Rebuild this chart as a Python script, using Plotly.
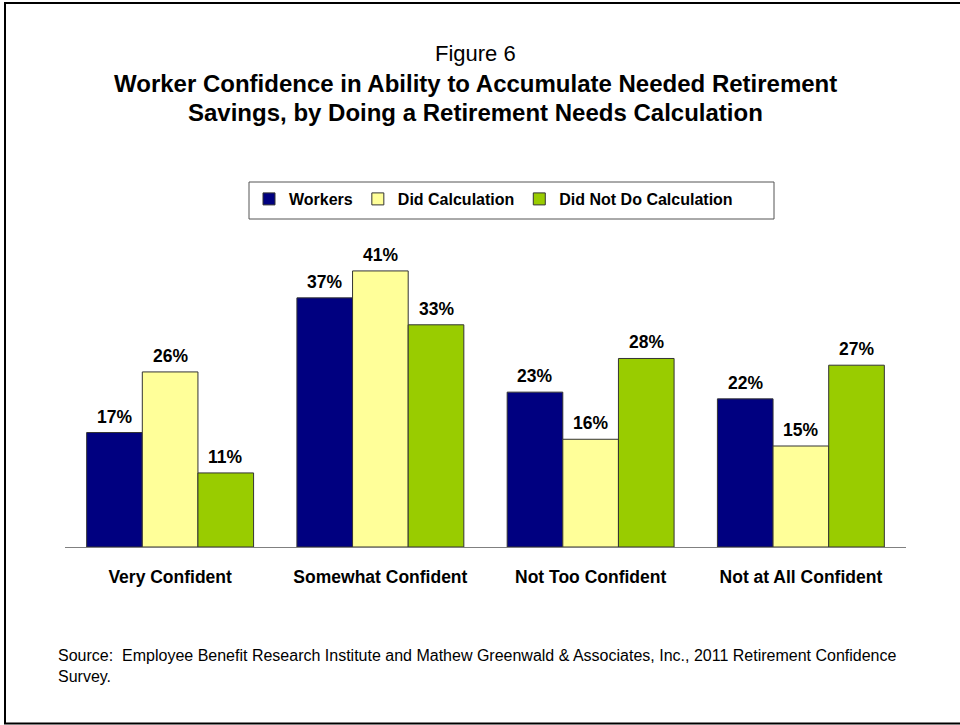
import plotly.graph_objects as go

# Survey responses (% of workers) by confidence level
categories = ["Very Confident", "Somewhat Confident", "Not Too Confident", "Not at All Confident"]
series_names = ["Workers", "Did Calculation", "Did Not Do Calculation"]
workers = [17, 37, 23, 22]
did_calc = [26, 41, 16, 15]
did_not_calc = [11, 33, 28, 27]

series_values = [workers, did_calc, did_not_calc]
colors = ["#000080", "#FFFF99", "#99CC00"]

FONT = "Arial, 'Liberation Sans', sans-serif"
W, H = 960, 725
M_L, M_R, M_T, M_B = 65, 54, 244, 178
PLOT_W = W - M_L - M_R
PLOT_H = H - M_T - M_B
BARGAP = 0.206
TITLE_X = 475.5


def py(pix):
    """Convert a pixel row (from top) to paper y."""
    return (H - M_B - pix) / PLOT_H


def px(pix):
    """Convert a pixel column (from left) to paper x."""
    return (pix - M_L) / PLOT_W


fig = go.Figure()
for name, vals, col in zip(series_names, series_values, colors):
    fig.add_trace(go.Bar(
        x=categories, y=vals, name=name,
        marker=dict(color=col, line=dict(color="#333333", width=1)),
        hoverinfo="x+y+name",
    ))

# value labels above each bar
bar_px = PLOT_W / len(categories) * (1 - BARGAP) / len(series_names)
annotations = []
for j, vals in enumerate(series_values):
    for cat, v in zip(categories, vals):
        annotations.append(dict(
            x=cat, y=v, xref="x", yref="y", text=f"{v}%",
            showarrow=False, yanchor="bottom", xanchor="center",
            xshift=(j - 1) * bar_px, yshift=4,
            font=dict(family=FONT, size=17.5, color="#000000", weight="bold"),
        ))

# titles and source note
annotations += [
    dict(x=px(TITLE_X), y=py(53.5), xref="paper", yref="paper", text="Figure 6",
         showarrow=False, xanchor="center", yanchor="middle",
         font=dict(family=FONT, size=22, color="#000000")),
    dict(x=px(TITLE_X), y=py(83.5), xref="paper", yref="paper",
         text="Worker Confidence in Ability to Accumulate Needed Retirement",
         showarrow=False, xanchor="center", yanchor="middle",
         font=dict(family=FONT, size=24, color="#000000", weight="bold")),
    dict(x=px(TITLE_X), y=py(112.5), xref="paper", yref="paper",
         text="Savings, by Doing a Retirement Needs Calculation",
         showarrow=False, xanchor="center", yanchor="middle",
         font=dict(family=FONT, size=24, color="#000000", weight="bold")),
    dict(x=px(56), y=py(645), xref="paper", yref="paper",
         text="Source:  Employee Benefit Research Institute and Mathew Greenwald & Associates, Inc., 2011 Retirement Confidence<br>Survey.",
         showarrow=False, xanchor="left", yanchor="top", align="left",
         font=dict(family=FONT, size=16, color="#000000")),
]

shapes = [
    # outer frame
    dict(type="rect", xref="paper", yref="paper",
         x0=px(5), x1=px(968), y0=py(723.5), y1=py(3),
         line=dict(color="#000000", width=2), fillcolor="rgba(0,0,0,0)",
         layer="below"),
    # legend box
    dict(type="rect", xref="paper", yref="paper",
         x0=px(249), x1=px(774), y0=py(219), y1=py(182),
         line=dict(color="#555555", width=1), fillcolor="#FFFFFF",
         layer="below"),
]

fig.update_layout(
    width=W, height=H,
    margin=dict(l=M_L, r=M_R, t=M_T, b=M_B),
    paper_bgcolor="#FFFFFF", plot_bgcolor="#FFFFFF",
    barmode="group", bargap=BARGAP, bargroupgap=0,
    font=dict(family=FONT, color="#000000"),
    showlegend=True,
    legend=dict(
        orientation="h", x=px(249), y=py(182), xanchor="left", yanchor="top",
        borderwidth=0, bgcolor="rgba(0,0,0,0)",
        font=dict(family=FONT, size=16, color="#000000", weight="bold"),
        itemwidth=30, traceorder="normal",
    ),
    annotations=annotations,
    shapes=shapes,
)
fig.update_xaxes(
    showline=True, linecolor="#808080", linewidth=1, ticks="",
    showgrid=False, zeroline=False, ticklabelstandoff=14,
    tickfont=dict(family=FONT, size=17.5, color="#000000", weight="bold"),
)
fig.update_yaxes(range=[0, 45], visible=False, showgrid=False, zeroline=False)

fig.write_html("out.html")
